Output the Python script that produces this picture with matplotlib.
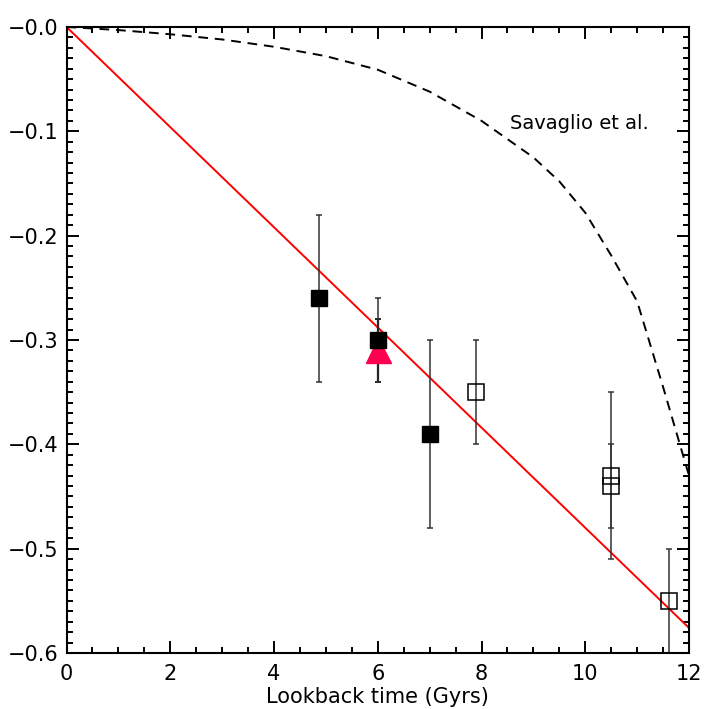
#!/usr/bin/env python3

import numpy as np
import matplotlib
matplotlib.use('Agg')
import matplotlib.pyplot as plt
from matplotlib.ticker import MultipleLocator, FuncFormatter

# filled squares
t_fill   = [4.87, 6.0, 7.0]
z_fill   = [-0.26, -0.30, -0.39]
e_fill   = [0.08, 0.04, 0.09]

# open squares
t_open   = [7.9, 10.5, 10.5, 11.62]
z_open   = [-0.35, -0.43, -0.44, -0.55]
e_open   = [0.05, 0.08, 0.04, 0.05]

# red triangle
t_tri    = [6.0]
z_tri    = [-0.31]
e_tri    = [0.03]

# linear fit
t_fit    = [0.0, 12.0]
z_fit    = [0.0, -0.576]

# Savaglio et al. curve
t_sav = [0, 1, 2, 3, 4, 5, 6, 7, 8, 9, 9.5, 10, 10.5, 11, 11.5, 12]
z_sav = [0, -0.003, -0.007, -0.012, -0.019, -0.028, -0.041, -0.062,
         -0.09, -0.125, -0.148, -0.178, -0.219, -0.263, -0.345, -0.43]

plt.rcParams['font.family'] = 'DejaVu Sans'

fig = plt.figure(figsize=(7.09, 7.09), dpi=100)
ax = fig.add_axes([0.0938, 0.079, 0.878, 0.883])

ax.plot(t_sav, z_sav, '--', c='k', lw=1.4, dashes=(5, 3.5))
ax.plot(t_fit, z_fit, '-', c='#ff0000', lw=1.4)

ecol = '#333333'
ax.errorbar(t_tri, z_tri, yerr=e_tri, fmt='^', ms=18, mfc='#ff0050', mec='#ff0050',
            ecolor='k', elinewidth=1.6, capsize=2.5, capthick=1.2)
ax.errorbar(t_fill, z_fill, yerr=e_fill, fmt='s', ms=12, mfc='k', mec='k',
            ecolor=ecol, elinewidth=1.1, capsize=2.5, capthick=1.1)
ax.errorbar(t_open, z_open, yerr=e_open, fmt='s', ms=12, mfc='none', mec='k',
            mew=1.1, ecolor=ecol, elinewidth=1.1, capsize=2.5, capthick=1.1)

ax.text(8.55, -0.093, 'Savaglio et al.', fontsize=14, va='center', ha='left')

ax.set_xlim(0, 12)
ax.set_ylim(-0.6, 0.0)
ax.xaxis.set_major_locator(MultipleLocator(2))
ax.xaxis.set_minor_locator(MultipleLocator(0.5))
ax.yaxis.set_major_locator(MultipleLocator(0.1))
ax.yaxis.set_minor_locator(MultipleLocator(0.01))
ax.yaxis.set_major_formatter(FuncFormatter(lambda v, p: '\u2212%.1f' % abs(v)))

ax.tick_params(which='both', direction='in', top=True, right=True, width=1.4)
ax.tick_params(which='major', length=8.6, labelsize=15)
ax.tick_params(which='minor', length=4)
ax.tick_params(axis='x', pad=8)
ax.tick_params(axis='y', pad=6)
for s in ax.spines.values():
    s.set_linewidth(1.5)

ax.set_xlabel('Lookback time (Gyrs)', fontsize=15, va='bottom')
ax.xaxis.set_label_coords(0.5, -0.086)

plt.savefig('out.png', dpi=100)
